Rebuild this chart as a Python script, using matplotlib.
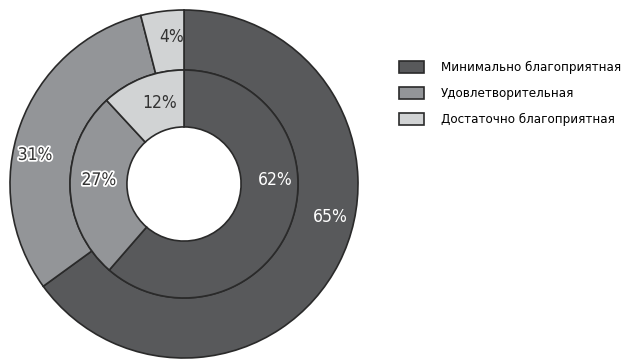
import matplotlib.pyplot as plt
import matplotlib.patheffects as pe
from matplotlib import font_manager

# Share of respondents by situation category: outer ring and inner ring
categories = ["Минимально благоприятная", "Удовлетворительная", "Достаточно благоприятная"]
outer_values = [65, 31, 4]
inner_values = [62, 27, 12]

# label anchor points (in units of outer radius) for outer/inner ring
outer_label_pos = [(0.839, -0.190), (-0.856, 0.167), (-0.069, 0.845)]
inner_label_pos = [(0.523, 0.023), (-0.489, 0.023), (-0.138, 0.466)]

colors = ["#58595b", "#939598", "#d1d3d4"]
text_colors = ["white", "#333333", "#333333"]
edge = "#2a2a2a"

# prefer a narrow face if one is installed
files = [f.fname for f in font_manager.fontManager.ttflist]
narrow = None
for key in ["DejaVuSansCondensed.ttf", "LiberationSansNarrow-Regular", "RobotoCondensed"]:
    hits = [f for f in files if key in f]
    if hits:
        narrow = hits[0]
        break
if narrow:
    fp_label = font_manager.FontProperties(fname=narrow, size=12.5)
    fp_leg = font_manager.FontProperties(fname=narrow, size=9.5)
else:
    fp_label = font_manager.FontProperties(family="DejaVu Sans", size=11)
    fp_leg = font_manager.FontProperties(family="DejaVu Sans", size=8.5)

fig = plt.figure(figsize=(6.25, 3.61), dpi=100)
ax = fig.add_axes([10 / 625, 3 / 361, 348 / 625, 348 / 361])

R_OUT, R_MID, R_HOLE = 1.0, 0.655, 0.328
wedge_kw = dict(edgecolor=edge, linewidth=1.2)

outer_wedges, _ = ax.pie(outer_values, radius=R_OUT, colors=colors, startangle=90,
                         counterclock=False, wedgeprops=dict(width=R_OUT - R_MID, **wedge_kw))
ax.pie(inner_values, radius=R_MID, colors=colors, startangle=90,
       counterclock=False, wedgeprops=dict(width=R_MID - R_HOLE, **wedge_kw))


def put_labels(values, positions):
    for i, (v, (x, y)) in enumerate(zip(values, positions)):
        t = ax.text(x, y, f"{v}%", ha="center", va="center", fontproperties=fp_label,
                    color=text_colors[i])
        if i == 1:
            # mid-grey segments get a white halo around dark text
            t.set_path_effects([pe.withStroke(linewidth=2.5, foreground="white")])


put_labels(outer_values, outer_label_pos)
put_labels(inner_values, inner_label_pos)

ax.set_xlim(-1, 1)
ax.set_ylim(-1, 1)
ax.set_aspect("equal")
ax.axis("off")

fig.legend(outer_wedges, categories, loc="upper left", bbox_to_anchor=(387 / 625, 1 - 49 / 361),
           frameon=False, prop=fp_leg, handlelength=1.9, handleheight=1.0,
           handletextpad=1.3, labelspacing=0.95)

plt.savefig("out.png", dpi=100)
